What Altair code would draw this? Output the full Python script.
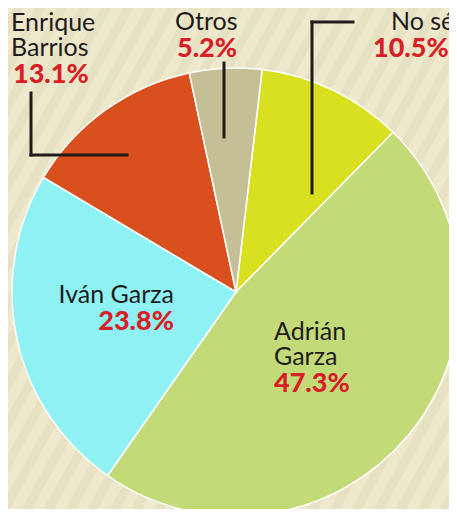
import math
import altair as alt
import pandas as pd

# ---- data ----
categories = ["No sé", "Adrián Garza", "Iván Garza", "Enrique Barrios", "Otros"]
values = [10.5, 47.3, 23.8, 13.1, 5.2]
slice_colors = ["#d9e020", "#c2da78", "#8ef2f4", "#da4f1e", "#c5bf96"]

# ---- layout (window pixel coordinates) ----
W, H = 441, 501
M = 8  # page margin
CX, CY, R = 236, 292, 224
START = math.radians(6.7)
FONT = "Lato"
INK = "#1f1b1b"
RED = "#d81e26"
BG = "#eee9cc"
STRIPE = "#e7e1c3"

# label layout: category -> (x, y of first baseline, align, name lines)
label_layout = {
    "Enrique Barrios": (11, 31, "left", ["Enrique", "Barrios"]),
    "Otros": (175, 30, "left", ["Otros"]),
    "No sé": (391, 30, "left", ["No sé"]),
    "Iván Garza": (174, 303, "right", ["Iván Garza"]),
    "Adrián Garza": (274, 340, "left", ["Adrián", "Garza"]),
}
pct_indent = {"Enrique Barrios": 2, "Otros": 2, "No sé": -18, "Iván Garza": 0, "Adrián Garza": 0}
LINE_H = 25
PCT_GAP = 27

leaders = [  # (x, y, x2, y2)
    (31, 93, 31, 155), (31, 155, 127, 155),
    (224, 63, 224, 137),
    (353, 22, 312, 22), (312, 22, 312, 193),
]

xs = alt.Scale(domain=[M, M + W], range=[0, W])
ys = alt.Scale(domain=[M, M + H], range=[0, H])

# ---- background stripes (decoration) ----
rise = H + 60
run = rise / math.tan(math.radians(61))
stripe_df = pd.DataFrame({"x": [float(x) for x in range(-320, 480, 22)]})
stripe_df["y"] = M + H + 30
stripe_df["x2"] = stripe_df["x"] + run
stripe_df["y2"] = M + H + 30 - rise
stripes = alt.Chart(stripe_df).mark_rule(color=STRIPE, strokeWidth=9, clip=True).encode(
    x=alt.X("x:Q", scale=xs, axis=None),
    y=alt.Y("y:Q", scale=ys, axis=None),
    x2="x2:Q",
    y2="y2:Q",
)

# ---- pie ----
pie_df = pd.DataFrame({"cat": categories, "value": values, "idx": list(range(len(categories)))})
pie = alt.Chart(pie_df).mark_arc(outerRadius=R, stroke="white", strokeWidth=1.5).encode(
    theta=alt.Theta("value:Q", stack=True,
                    scale=alt.Scale(range=[START, START + 2 * math.pi])),
    order=alt.Order("idx:Q"),
    color=alt.Color("cat:N", scale=alt.Scale(domain=categories, range=slice_colors), legend=None),
    x=alt.value(CX - M),
    y=alt.value(CY - M),
)

# ---- leader lines ----
lead_df = pd.DataFrame(leaders, columns=["x", "y", "x2", "y2"])
lines = alt.Chart(lead_df).mark_rule(color=INK, strokeWidth=3, strokeCap="square").encode(
    x=alt.X("x:Q", scale=xs, axis=None),
    y=alt.Y("y:Q", scale=ys, axis=None),
    x2="x2:Q",
    y2="y2:Q",
)

# ---- labels ----
rows = []
for cat, val in zip(categories, values):
    x, y, align, lines_txt = label_layout[cat]
    for i, t in enumerate(lines_txt):
        rows.append({"x": x, "y": y + i * LINE_H, "t": t, "kind": "name", "al": align})
    py = y + (len(lines_txt) - 1) * LINE_H + PCT_GAP
    rows.append({"x": x + pct_indent[cat], "y": py, "t": f"{val}%", "kind": "pct", "al": align})
lab_df = pd.DataFrame(rows)

def text_layer(kind, align, color, weight, size):
    d = lab_df[(lab_df["kind"] == kind) & (lab_df["al"] == align)].reset_index(drop=True)
    return alt.Chart(d).mark_text(
        font=FONT, fontSize=size, fontWeight=weight, color=color,
        align=align, baseline="alphabetic",
    ).encode(
        x=alt.X("x:Q", scale=xs, axis=None),
        y=alt.Y("y:Q", scale=ys, axis=None),
        text="t:N",
    )

texts = [
    text_layer("name", "left", INK, 400, 25),
    text_layer("name", "right", INK, 400, 25),
    text_layer("pct", "left", RED, 900, 27),
    text_layer("pct", "right", RED, 900, 27),
]

chart = alt.layer(stripes, pie, lines, *texts).properties(
    width=W, height=H, autosize=alt.AutoSizeParams(type="none"), padding=0,
    background=BG,
).configure_view(stroke=None)

chart.save("out.html", embed_options={"renderer": "svg", "actions": False})
